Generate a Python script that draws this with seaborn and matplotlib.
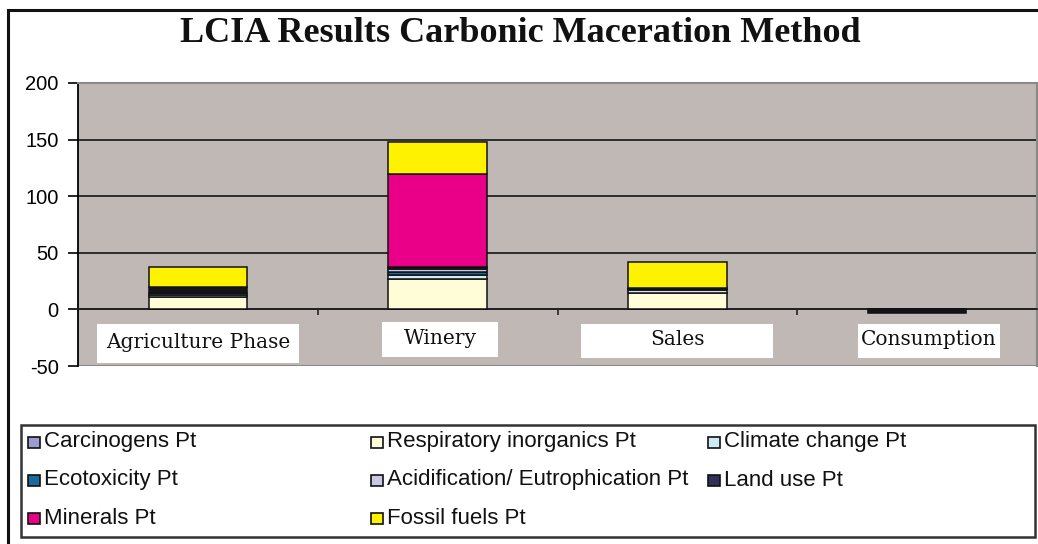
import numpy as np
import pandas as pd
import matplotlib
matplotlib.use("Agg")
import matplotlib.pyplot as plt
from matplotlib.patches import Rectangle
import seaborn as sns

# Data (points)
categories = ["Agriculture Phase", "Winery", "Sales", "Consumption"]
series_names = ["Carcinogens Pt", "Respiratory inorganics Pt", "Climate change Pt",
                "Ecotoxicity Pt", "Acidification/ Eutrophication Pt", "Land use Pt",
                "Minerals Pt", "Fossil fuels Pt"]
carcinogens = [0.3, 0.5, 0.2, 0.0]
respiratory = [11.0, 26.5, 14.5, 0.0]
climate = [1.5, 3.0, 2.5, 0.0]
ecotoxicity = [1.5, 3.0, 0.5, 0.0]
acidification = [0.5, 3.0, 0.3, 0.0]
land_use = [5.0, 1.5, 1.0, -3.5]
minerals = [0.3, 82.0, 0.2, 0.0]
fossil = [17.0, 28.0, 23.0, 0.0]
yticks = [-50, 0, 50, 100, 150, 200]

series = [carcinogens, respiratory, climate, ecotoxicity,
          acidification, land_use, minerals, fossil]
colors = ["#9C9CCE", "#FFFCD8", "#CCEBF5", "#1C6A9C",
          "#C8C8E6", "#141418", "#EA0088", "#FFF200"]
legend_colors = ["#9C9CCE", "#FFFCD8", "#CCEBF5", "#1C6A9C",
                 "#C8C8E6", "#30305A", "#EA0088", "#FFF200"]

W, H = 1038, 544
fig = plt.figure(figsize=(W / 100, H / 100), dpi=100)
ax = fig.add_axes([78 / W, 1 - 366 / H, (1037 - 78) / W, (366 - 83) / H])
ax.set_facecolor("#C0B8B5")

pos_base = np.zeros(len(categories))
neg_base = np.zeros(len(categories))
for name, vals, col in zip(series_names, series, colors):
    v = np.array(vals, dtype=float)
    bottom = np.where(v >= 0, pos_base, neg_base)
    df = pd.DataFrame({"category": categories, "value": v})
    sns.barplot(data=df, x="category", y="value", order=categories, bottom=bottom,
                color=col, saturation=1, width=0.41, errorbar=None,
                edgecolor="#111111", linewidth=1.1, ax=ax, zorder=3)
    pos_base = pos_base + np.where(v > 0, v, 0)
    neg_base = neg_base + np.where(v < 0, v, 0)

ax.set_ylim(-50, 200)
ax.set_xlim(-0.5, len(categories) - 0.5)
ax.set_yticks(yticks)
ax.set_yticklabels([str(t) for t in yticks], fontsize=14.5, family="Liberation Sans")
ax.tick_params(axis="y", direction="out", length=7, width=1.2, pad=7, colors="black")
ax.set_xlabel("")
ax.set_ylabel("")

# gridlines
ax.yaxis.grid(True, color="#222222", linewidth=1.3, zorder=1)
ax.set_axisbelow(True)
ax.axhline(-50, color="#8C8886", linewidth=1.5)

# x axis crossing at zero with small ticks between categories
ax.spines["bottom"].set_position(("data", 0))
ax.spines["bottom"].set_color("#222222")
ax.spines["bottom"].set_linewidth(1.3)
ax.set_xticks([0.5, 1.5, 2.5])
ax.set_xticklabels([])
ax.tick_params(axis="x", direction="out", length=4, width=1.2, colors="#222222")
ax.spines["left"].set_color("black")
ax.spines["left"].set_linewidth(1.3)
for s in ["top", "right"]:
    ax.spines[s].set_color("#8C8886")
    ax.spines[s].set_linewidth(1.5)

# category labels in white boxes (center, width, top, bottom in axis units)
label_boxes = [(0.0, 0.84, -12.5, -47.5), (1.01, 0.48, -11.5, -42.0),
               (2.0, 0.80, -13.0, -43.0), (3.05, 0.59, -13.0, -43.0)]
for cat, (cx, bw, top, bot) in zip(categories, label_boxes):
    ax.add_patch(Rectangle((cx - bw / 2, bot), bw, top - bot, facecolor="white",
                           edgecolor="none", zorder=4))
    ax.text(cx, (top + bot) / 2 + 1, cat, ha="center", va="center", fontsize=14.5,
            family="DejaVu Serif", color="#111111", zorder=5)

# title
fig.text(520 / W, 1 - 34 / H, "LCIA Results Carbonic Maceration Method",
         ha="center", va="center", fontsize=26, fontweight="bold",
         family="Liberation Serif", color="#111111")

# outer border
fig.add_artist(Rectangle((8 / W, -0.01), 1.1, 1 - 10 / H + 0.01, transform=fig.transFigure,
                         facecolor="none", edgecolor="#111111", linewidth=2.2))

# legend box drawn by hand to keep the column layout
fig.add_artist(Rectangle((21 / W, 1 - 537 / H), (1035 - 21) / W, (537 - 425) / H,
                         transform=fig.transFigure, facecolor="white",
                         edgecolor="#333333", linewidth=1.8))
col_x = [28, 371, 708]
row_y = [442, 480, 518]
for i, (name, col) in enumerate(zip(series_names, legend_colors)):
    r, c = divmod(i, 3)
    x, y = col_x[c], row_y[r]
    fig.add_artist(Rectangle((x / W, 1 - (y + 6) / H), 12 / W, 11 / H,
                             transform=fig.transFigure, facecolor=col,
                             edgecolor="#111111", linewidth=1.2))
    fig.text((x + 16) / W, 1 - y / H, name, ha="left", va="center",
             fontsize=16, family="Liberation Sans", color="#111111")

fig.savefig("out.png", dpi=100)
